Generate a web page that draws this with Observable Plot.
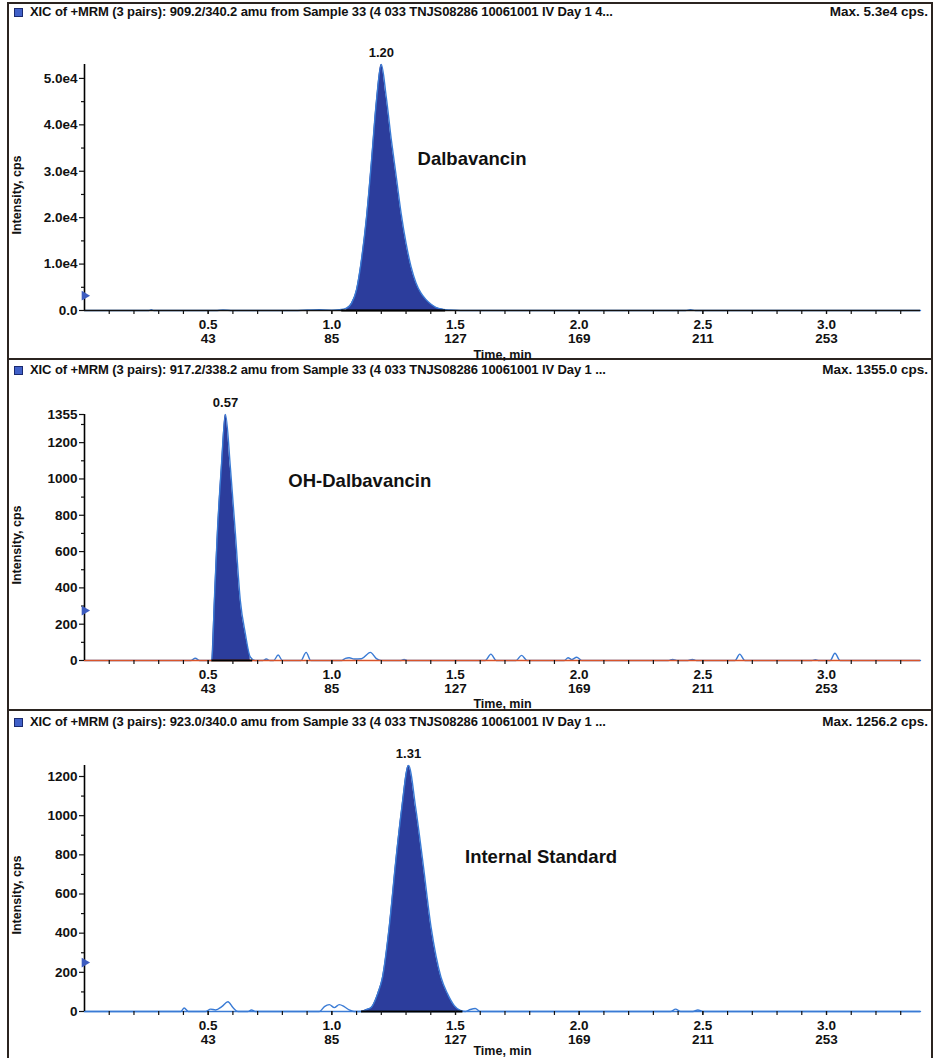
<!DOCTYPE html>
<html>
<head>
<meta charset="utf-8">
<script src="https://cdn.jsdelivr.net/npm/d3@7"></script>
<script src="https://cdn.jsdelivr.net/npm/@observablehq/plot@0.6"></script>
<style>
  body { margin: 0; background: #fff; }
  #page { position: relative; width: 934px; height: 1058px; overflow: hidden;
          font-family: "Liberation Sans", Arial, sans-serif; color: #111; }
  .vline { position: absolute; top: 2px; height: 1056px; width: 0; border-left: 2px solid #2b2420; }
  .hline { position: absolute; left: 7px; width: 926px; height: 0; border-top: 2px solid #2b2420; }
  .icon { position: absolute; left: 14px; width: 7px; height: 7px; background: #4060c8; border: 1px solid #1a2a70; }
  .hdr { position: absolute; left: 30px; font-size: 13px; font-weight: bold; letter-spacing: -0.1px; white-space: nowrap; line-height: 14px; }
  .max { position: absolute; right: 6px; font-size: 13.5px; font-weight: bold; letter-spacing: 0px; white-space: nowrap; line-height: 14px; }
  .ylab { position: absolute; left: 17px; font-size: 12.5px; font-weight: bold; white-space: nowrap;
          transform: translate(-50%, -50%) rotate(-90deg); line-height: 13px; }
  .plotwrap { position: absolute; left: 0; }
</style>
</head>
<body>
<div id="page"></div>
<script>
// ---------- shared axis data ----------
const xMajorTicks = [0.5, 1.0, 1.5, 2.0, 2.5, 3.0];
const xMajorLabels = ["0.5", "1.0", "1.5", "2.0", "2.5", "3.0"];
const scanLabels = ["43", "85", "127", "169", "211", "253"];
const timeMax = 3.38;

// ---------- Panel 1: Dalbavancin (909.2/340.2) ----------
const dalbaTime = [0, 0.26, 0.27, 0.28, 0.53, 0.56, 0.60, 0.85, 0.90, 0.95, 1.00, 1.03, 1.06, 1.08, 1.10, 1.12, 1.14, 1.16, 1.18, 1.20, 1.22, 1.24, 1.26, 1.28, 1.30, 1.32, 1.34, 1.36, 1.38, 1.40, 1.42, 1.45, 1.48, 1.52, 2.43, 2.45, 2.47, 3.38];
const dalbaIntensity = [0, 0, 150, 0, 0, 120, 0, 0, 100, 150, 80, 150, 500, 1600, 4500, 11000, 20000, 32000, 45000, 53000, 46000, 37000, 29000, 21000, 14500, 9500, 6000, 3800, 2400, 1400, 700, 250, 100, 0, 0, 150, 0, 0];
const dalbaPeakRange = [1.04, 1.46];
const dalbaYTicks = [0, 10000, 20000, 30000, 40000, 50000];
const dalbaYLabels = ["0.0", "1.0e4", "2.0e4", "3.0e4", "4.0e4", "5.0e4"];
const dalbaYMinor = [5000, 15000, 25000, 35000, 45000];
const dalbaYMax = 53000;
const dalbaPeakLabel = { t: 1.20, v: 53000, text: "1.20" };
const dalbaName = { t: 1.567, v: 32700, text: "Dalbavancin" };
const dalbaThreshold = 3200;

// ---------- Panel 2: OH-Dalbavancin (917.2/338.2) ----------
const ohTime = [0, 0.43, 0.448, 0.465, 0.515, 0.525, 0.537, 0.553, 0.57, 0.59, 0.61, 0.63, 0.65, 0.67, 0.69, 0.72, 0.735, 0.75, 0.765, 0.783, 0.80, 0.875, 0.896, 0.915, 1.04, 1.055, 1.07, 1.09, 1.12, 1.156, 1.18, 1.20, 1.28, 1.292, 1.305, 1.62, 1.643, 1.665, 1.745, 1.767, 1.79, 1.94, 1.955, 1.97, 1.99, 2.01, 2.36, 2.378, 2.395, 2.44, 2.457, 2.475, 2.63, 2.649, 2.67, 2.94, 2.955, 2.97, 3.015, 3.034, 3.055, 3.38];
const ohIntensity = [0, 0, 12, 0, 0, 330, 700, 1060, 1355, 1060, 700, 330, 150, 20, 0, 0, 8, 0, 0, 30, 0, 0, 45, 0, 0, 12, 15, 8, 10, 45, 10, 0, 0, 6, 0, 0, 35, 0, 0, 28, 0, 0, 15, 5, 18, 0, 0, 6, 0, 0, 6, 0, 0, 35, 0, 0, 5, 0, 0, 40, 0, 0];
const ohPeakRange = [0.515, 0.68];
const ohYTicks = [0, 200, 400, 600, 800, 1000, 1200, 1355];
const ohYLabels = ["0", "200", "400", "600", "800", "1000", "1200", "1355"];
const ohYMinor = [100, 300, 500, 700, 900, 1100, 1300];
const ohYMax = 1355;
const ohPeakLabel = { t: 0.57, v: 1355, text: "0.57" };
const ohName = { t: 1.113, v: 990, text: "OH-Dalbavancin" };
const ohThreshold = 275;

// ---------- Panel 3: Internal Standard (923.0/340.0) ----------
const isTime = [0, 0.39, 0.403, 0.42, 0.49, 0.51, 0.53, 0.555, 0.58, 0.60, 0.62, 0.66, 0.675, 0.69, 0.95, 0.97, 0.99, 1.01, 1.03, 1.05, 1.07, 1.09, 1.12, 1.14, 1.16, 1.185, 1.205, 1.232, 1.259, 1.282, 1.31, 1.34, 1.367, 1.401, 1.441, 1.468, 1.495, 1.52, 1.54, 1.56, 1.58, 1.60, 2.37, 2.39, 2.41, 2.46, 2.48, 2.50, 3.38];
const isIntensity = [0, 0, 18, 0, 0, 12, 8, 25, 50, 20, 0, 0, 8, 0, 0, 25, 35, 20, 35, 25, 8, 0, 0, 10, 22, 90, 176, 432, 774, 1031, 1256, 1031, 774, 432, 176, 90, 30, 5, 0, 10, 15, 0, 0, 12, 0, 0, 8, 0, 0];
const isPeakRange = [1.12, 1.53];
const isYTicks = [0, 200, 400, 600, 800, 1000, 1200];
const isYLabels = ["0", "200", "400", "600", "800", "1000", "1200"];
const isYMinor = [100, 300, 500, 700, 900, 1100];
const isYMax = 1256.2;
const isPeakLabel = { t: 1.31, v: 1256.2, text: "1.31" };
const isName = { t: 1.846, v: 790, text: "Internal Standard" };
const isThreshold = 250;

// ---------- headers ----------
const headerTexts = [
  "XIC of +MRM (3 pairs): 909.2/340.2 amu from Sample 33 (4 033 TNJS08286 10061001 IV Day 1 4...",
  "XIC of +MRM (3 pairs): 917.2/338.2 amu from Sample 33 (4 033 TNJS08286 10061001 IV Day 1 ...",
  "XIC of +MRM (3 pairs): 923.0/340.0 amu from Sample 33 (4 033 TNJS08286 10061001 IV Day 1 ..."
];
const maxTexts = ["Max. 5.3e4 cps.", "Max. 1355.0 cps.", "Max. 1256.2 cps."];

const panels = [
  { time: dalbaTime, val: dalbaIntensity, range: dalbaPeakRange, yt: dalbaYTicks, yl: dalbaYLabels, ym: dalbaYMinor, ymax: dalbaYMax, peak: dalbaPeakLabel, name: dalbaName, thr: dalbaThreshold, baseColor: "#111", top: 28, hdrY: 5, ylabY: 195, titleDy: 44 },
  { time: ohTime, val: ohIntensity, range: ohPeakRange, yt: ohYTicks, yl: ohYLabels, ym: ohYMinor, ymax: ohYMax, peak: ohPeakLabel, name: ohName, thr: ohThreshold, baseColor: "#d9542b", top: 378, hdrY: 363, ylabY: 545, titleDy: 43 },
  { time: isTime, val: isIntensity, range: isPeakRange, yt: isYTicks, yl: isYLabels, ym: isYMinor, ymax: isYMax, peak: isPeakLabel, name: isName, thr: isThreshold, baseColor: "#3a7bd5", top: 729, hdrY: 715, ylabY: 895, titleDy: 39 }
];

const page = document.getElementById("page");

function addEl(cls, style, text) {
  const e = document.createElement("div");
  e.className = cls;
  Object.assign(e.style, style);
  if (text != null) e.textContent = text;
  page.appendChild(e);
  return e;
}

// frame lines
addEl("vline", { left: "7px" });
addEl("vline", { left: "931px" });
addEl("hline", { top: "2px" });
addEl("hline", { top: "358px" });
addEl("hline", { top: "709px" });

const xMinor = d3.range(1, 34).map(i => i / 10);

panels.forEach((p, k) => {
  addEl("icon", { top: (p.hdrY + 3) + "px" });
  addEl("hdr", { top: p.hdrY + "px" }, headerTexts[k]);
  addEl("max", { top: p.hdrY + "px" }, maxTexts[k]);
  addEl("ylab", { top: p.ylabY + "px" }, "Intensity, cps");

  const data = p.time.map((t, i) => ({ t, v: p.val[i] }));
  const peakData = data.filter(d => d.t >= p.range[0] && d.t <= p.range[1]);

  const chart = Plot.plot({
    width: 934,
    height: k === 2 ? 329 : 330,
    marginLeft: 84,
    marginRight: 14,
    marginTop: 36,
    marginBottom: k === 2 ? 47 : 48,
    style: { fontFamily: "Liberation Sans, Arial, sans-serif", fontWeight: "bold", fontSize: "13px", background: "transparent", overflow: "visible" },
    x: { domain: [0, timeMax] },
    y: { domain: [0, p.ymax] },
    marks: [
      Plot.areaY(peakData, { x: "t", y: "v", fill: "#2c3d9c", curve: "monotone-x" }),
      Plot.line(data, { x: "t", y: "v", stroke: "#3a7bd5", strokeWidth: 1.4, curve: "monotone-x" }),
      Plot.ruleY([0], { stroke: p.baseColor, strokeWidth: 1.6 }),
      Plot.ruleY([0], { x1: p.range[0], x2: p.range[1], stroke: "#000", strokeWidth: 2 }),
      Plot.ruleX([0], { stroke: "#000", strokeWidth: 1.6 }),
      Plot.axisY(p.ym, { tickSize: 3, tickFormat: () => "", strokeWidth: 1.2, label: null }),
      Plot.axisY(p.yt, { tickSize: 5, tickPadding: 2, strokeWidth: 1.2, fontSize: 13.5, tickFormat: d => p.yl[p.yt.indexOf(d)], label: null }),
      Plot.axisX(xMinor, { tickSize: 4, tickFormat: () => "", strokeWidth: 1.2, label: null }),
      Plot.axisX(xMajorTicks, { tickSize: 4, tickPadding: 4, strokeWidth: 1.2, fontSize: 13.5, lineHeight: 1.05,
        tickFormat: d => xMajorLabels[xMajorTicks.indexOf(d)] + "\n" + scanLabels[xMajorTicks.indexOf(d)], label: null }),
      Plot.text(["Time, min"], { frameAnchor: "bottom", dy: p.titleDy, lineAnchor: "middle", fontSize: 12.5, fontWeight: "bold" }),
      Plot.dot([p.thr], { x: () => 0, y: d => d, symbol: "triangle", rotate: 90, r: 3.6, fill: "#3d5cc0", stroke: "none" }),
      Plot.text([p.peak], { x: "t", y: "v", text: "text", dy: -8, lineAnchor: "bottom", fontSize: 13, fontWeight: "bold" }),
      Plot.text([p.name], { x: "t", y: "v", text: "text", fontSize: 18.5, fontWeight: "bold", letterSpacing: "-0.3px" })
    ]
  });
  const wrap = addEl("plotwrap", { top: p.top + "px" });
  wrap.appendChild(chart);
});
</script>
</body>
</html>
